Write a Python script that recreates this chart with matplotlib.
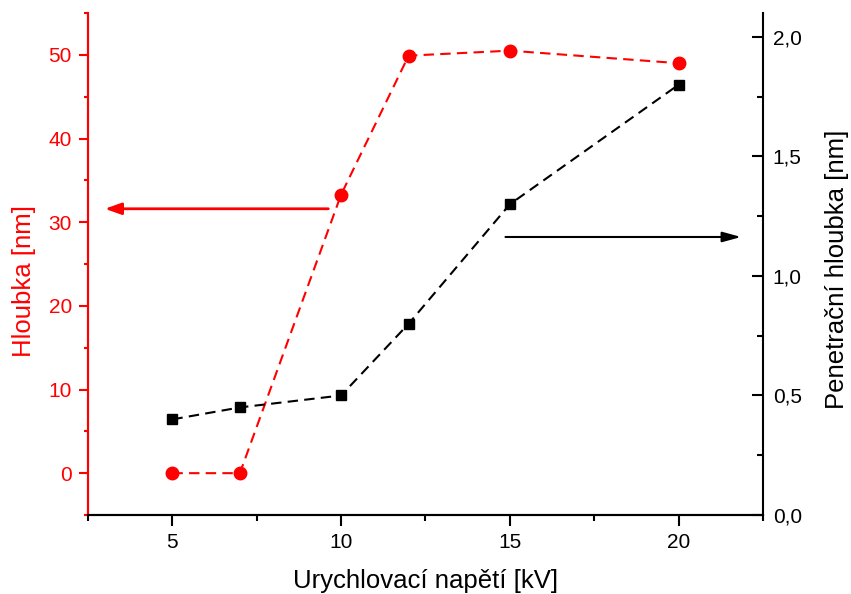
"""Depth vs. accelerating voltage, twin y axes (Czech labels)."""

import matplotlib

matplotlib.use("Agg")
import matplotlib.pyplot as plt
from matplotlib.ticker import FuncFormatter, MultipleLocator

plt.rcParams["font.family"] = ["Liberation Sans", "DejaVu Sans"]

# data
voltage_kv = [5, 7, 10, 12, 15, 20]
depth_nm = [0.0, 0.0, 33.3, 49.9, 50.5, 49.0]
penetration_nm = [0.40, 0.45, 0.50, 0.80, 1.30, 1.80]

RED = "#ff0000"

fig = plt.figure(figsize=(8.51, 5.94), dpi=100)
ax = fig.add_axes([88 / 851, 79 / 594, 675 / 851, 502 / 594])
ax2 = ax.twinx()

ax.plot(voltage_kv, depth_nm, ls="--", color=RED, lw=1.5, marker="o", ms=9,
        dashes=(5, 3), zorder=3)
ax2.plot(voltage_kv, penetration_nm, ls="--", color="black", lw=1.5, marker="s",
         ms=7.5, dashes=(5, 3), zorder=3)

ax.set_xlim(2.5, 22.5)
ax.set_ylim(-5, 55)
ax2.set_ylim(0, 2.1)

ax.xaxis.set_major_locator(MultipleLocator(5))
ax.xaxis.set_minor_locator(MultipleLocator(2.5))
ax.yaxis.set_major_locator(MultipleLocator(10))
ax.yaxis.set_minor_locator(MultipleLocator(5))
ax2.yaxis.set_major_locator(MultipleLocator(0.5))
ax2.yaxis.set_minor_locator(MultipleLocator(0.25))
ax2.yaxis.set_major_formatter(FuncFormatter(lambda v, _: f"{v:.1f}".replace(".", ",")))

# spines
for a in (ax, ax2):
    a.spines["top"].set_visible(False)
    for s in a.spines.values():
        s.set_linewidth(1.5)
ax.spines["right"].set_visible(False)
ax2.spines["left"].set_color(RED)
ax.spines["left"].set_color(RED)

ax.tick_params(axis="x", which="major", direction="out", length=8, width=1.5,
               labelsize=15, pad=5)
ax.tick_params(axis="x", which="minor", direction="out", length=4.5, width=1.5)
ax.tick_params(axis="y", which="major", direction="out", length=6.5, width=1.5,
               colors=RED, labelsize=15, pad=5)
ax.tick_params(axis="y", which="minor", direction="out", length=3, width=1.5,
               colors=RED)
ax2.tick_params(axis="y", which="major", direction="in", length=8, width=1.5,
                labelsize=15, pad=7)
ax2.tick_params(axis="y", which="minor", direction="in", length=4, width=1.5)

ax.set_xlabel("Urychlovací napětí [kV]", fontsize=18.5, labelpad=12)
ax.set_ylabel("Hloubka [nm]", fontsize=18.5, color=RED, labelpad=9)
ax.yaxis.label.set_y(0.466)
ax2.set_ylabel("Penetrační hloubka [nm]", fontsize=18.5, labelpad=17)
ax2.yaxis.label.set_y(0.49)

# arrows pointing to the matching axis
ax.annotate("", xy=(3.0, 31.6), xytext=(9.62, 31.6),
            arrowprops=dict(arrowstyle="-|>,head_length=0.7,head_width=0.25",
                            color=RED, lw=2, mutation_scale=14,
                            shrinkA=0, shrinkB=0))
ax2.annotate("", xy=(21.85, 1.163), xytext=(14.87, 1.163),
             arrowprops=dict(arrowstyle="-|>,head_length=0.8,head_width=0.22",
                             color="black", lw=1.5, mutation_scale=14,
                             shrinkA=0, shrinkB=0))

fig.savefig("out.png", dpi=100)
